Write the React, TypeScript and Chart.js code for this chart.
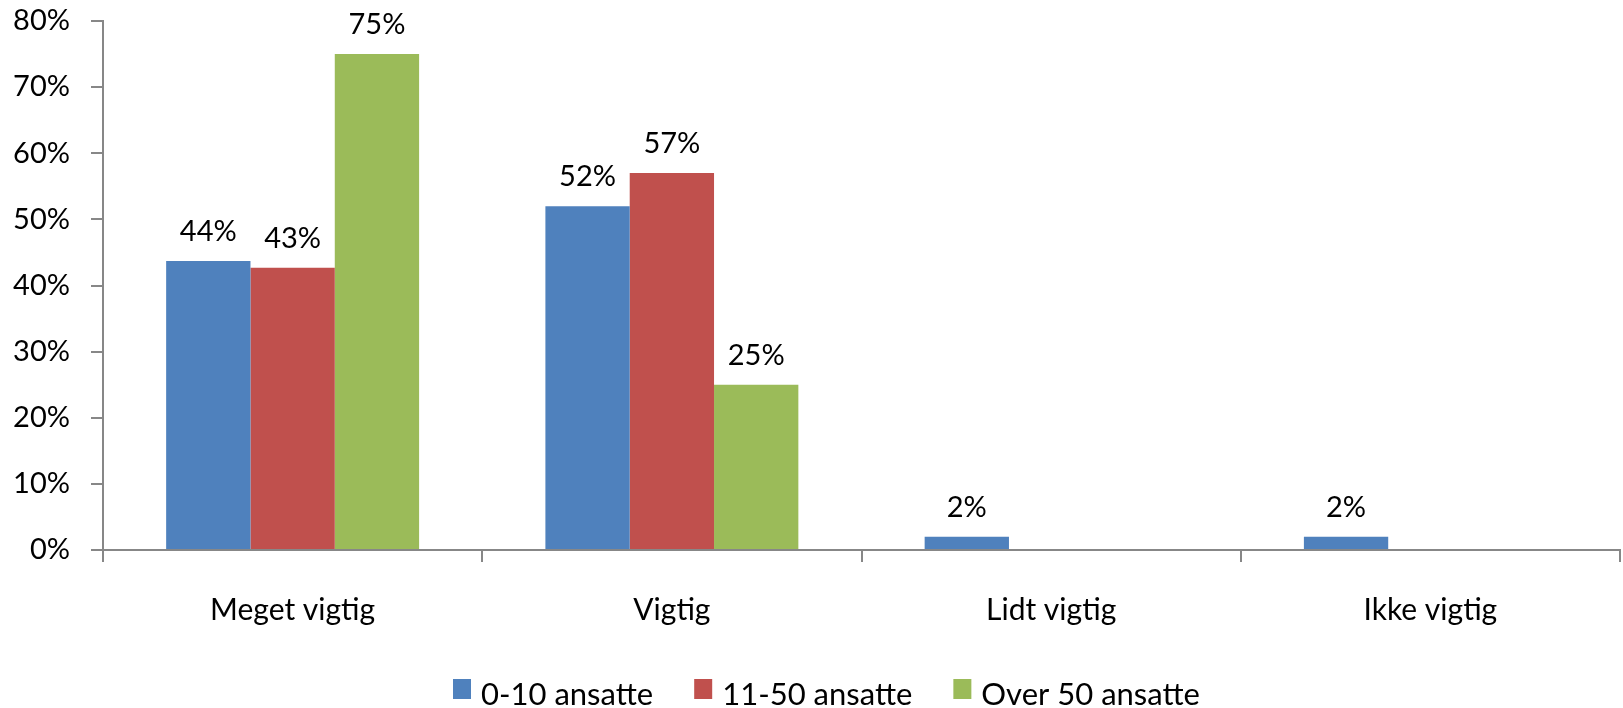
import React, { useEffect, useRef } from "react";
import { Chart, registerables } from "chart.js";

Chart.register(...registerables);

const categories = ["Meget vigtig", "Vigtig", "Lidt vigtig", "Ikke vigtig"];
const seriesNames = ["0-10 ansatte", "11-50 ansatte", "Over 50 ansatte"];
const small = [43.7, 52, 2, 2];
const medium = [42.7, 57, 0, 0];
const large = [75, 25, 0, 0];
const yTickLabels = ["0%", "10%", "20%", "30%", "40%", "50%", "60%", "70%", "80%"];
const colors = ["#4F81BD", "#C0504D", "#9BBB59"];

const AXIS = "#878787";
const FONT = "Lato";

const valueLabels = {
  id: "valueLabels",
  afterDatasetsDraw(chart: any) {
    const ctx = chart.ctx;
    ctx.save();
    ctx.font = `29px ${FONT}`;
    ctx.fillStyle = "#000";
    ctx.textAlign = "center";
    ctx.textBaseline = "alphabetic";
    chart.data.datasets.forEach((ds: any, i: number) => {
      const meta = chart.getDatasetMeta(i);
      meta.data.forEach((bar: any, j: number) => {
        const v = ds.data[j];
        if (!v) return;
        ctx.fillText(`${Math.round(v)}%`, bar.x, bar.y - 20);
      });
    });
    ctx.restore();
  },
};

const customLegend = {
  id: "customLegend",
  afterDraw(chart: any) {
    const ctx = chart.ctx;
    ctx.save();
    ctx.font = `31px ${FONT}`;
    ctx.textBaseline = "alphabetic";
    ctx.textAlign = "left";
    let x = 453;
    const boxTop = 679;
    const baseline = 705;
    chart.data.datasets.forEach((ds: any) => {
      ctx.fillStyle = ds.backgroundColor;
      ctx.fillRect(x, boxTop, 18, 20);
      x += 28;
      ctx.fillStyle = "#000";
      ctx.fillText(ds.label, x, baseline);
      x += ctx.measureText(ds.label).width + 41;
    });
    ctx.restore();
  },
};

export default function App() {
  const ref = useRef<HTMLCanvasElement | null>(null);
  useEffect(() => {
    if (!ref.current) return;
    const chart = new Chart(ref.current, {
      type: "bar",
      data: {
        labels: categories,
        datasets: [small, medium, large].map((d, i) => ({
          label: seriesNames[i],
          data: d,
          backgroundColor: colors[i],
          borderWidth: 0,
          barPercentage: 1,
          categoryPercentage: 0.667,
        })),
      },
      options: {
        animation: false,
        responsive: true,
        maintainAspectRatio: false,
        layout: { padding: { top: 21, right: 3, left: 0, bottom: 0 } },
        plugins: {
          legend: { display: false },
          tooltip: { enabled: false },
        },
        scales: {
          x: {
            offset: true,
            grid: {
              offset: true,
              drawOnChartArea: false,
              drawTicks: true,
              tickLength: 12,
              color: AXIS,
              lineWidth: 2,
            },
            border: { display: true, color: AXIS, width: 2 },
            ticks: { font: { family: FONT, size: 30 }, color: "#000", padding: 30 },
            afterFit: (s: any) => {
              s.height = 158;
              s.paddingLeft = 0;
              s.paddingRight = 0;
            },
          },
          y: {
            min: 0,
            max: 80,
            ticks: {
              stepSize: 10,
              callback: (_v: any, i: number) => yTickLabels[i],
              font: { family: FONT, size: 29 },
              color: "#000",
              padding: 21,
            },
            grid: {
              drawOnChartArea: false,
              drawTicks: true,
              tickLength: 12,
              color: AXIS,
              lineWidth: 2,
            },
            border: { display: true, color: AXIS, width: 2 },
            afterFit: (s: any) => {
              s.width = 103;
              s.paddingTop = 0;
              s.paddingBottom = 0;
            },
          },
        },
      },
      plugins: [valueLabels, customLegend],
    });
    return () => chart.destroy();
  }, []);
  return (
    <div style={{ position: "fixed", left: 0, top: 0, width: 1623, height: 708, background: "#fff" }}>
      <canvas ref={ref} />
    </div>
  );
}
